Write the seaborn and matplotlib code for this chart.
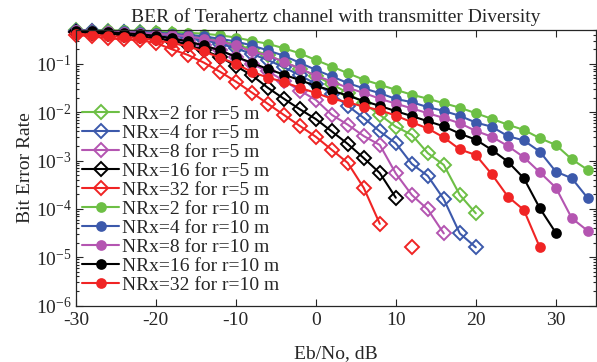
import numpy as np
import pandas as pd
import matplotlib
matplotlib.use("Agg")
import matplotlib.pyplot as plt
import seaborn as sns
from matplotlib.ticker import LogLocator, NullFormatter, FixedLocator

# Eb/No grid (dB)
snr_db = list(range(-30, 36, 2))

# r = 5 m (open diamonds)
ber_r5_nrx2 = [0.49, 0.48, 0.47, 0.46, 0.45, 0.43, 0.41, 0.38, 0.35, 0.30, 0.25, 0.20, 0.15,
               0.11, 0.08, 0.056, 0.038, 0.025, 0.0153, 0.0088, 0.0050, 0.0034, 0.00142,
               0.00081, 0.000194, 8.1e-5]
ber_r5_nrx4 = [0.48, 0.47, 0.46, 0.45, 0.43, 0.41, 0.38, 0.35, 0.31, 0.26, 0.21, 0.16, 0.12,
               0.085, 0.058, 0.0385, 0.024, 0.0135, 0.0076, 0.0040, 0.00228, 0.00085, 0.00048,
               0.000158, 3.1e-5, 1.6e-5]
ber_r5_nrx8 = [0.46, 0.45, 0.44, 0.42, 0.40, 0.37, 0.33, 0.29, 0.24, 0.19, 0.14, 0.10, 0.07,
               0.045, 0.028, 0.018, 0.0088, 0.0055, 0.0032, 0.0021, 0.00054, 0.000194, 9.7e-5,
               3.1e-5]
ber_r5_nrx16 = [0.45, 0.44, 0.42, 0.40, 0.37, 0.34, 0.30, 0.25, 0.19, 0.14, 0.09, 0.058, 0.032,
                0.019, 0.0115, 0.0072, 0.0040, 0.0022, 0.00112, 0.00055, 0.00017]
ber_r5_nrx32 = [0.40, 0.37, 0.34, 0.32, 0.31, 0.27, 0.20, 0.153, 0.106, 0.069, 0.043, 0.0255,
                0.0149, 0.0088, 0.0052, 0.0031, 0.00166, 0.00089, 0.00027, 4.9e-5, np.nan, 1.6e-5]

# r = 10 m (filled circles)
ber_r10_nrx2 = [0.50, 0.50, 0.49, 0.49, 0.48, 0.47, 0.46, 0.44, 0.42, 0.39, 0.35, 0.30, 0.26,
                0.21, 0.165, 0.12, 0.088, 0.064, 0.047, 0.037, 0.029, 0.023, 0.019, 0.0153,
                0.0124, 0.0095, 0.0073, 0.0055, 0.0043, 0.0029, 0.0021, 0.00106, 0.00064]
ber_r10_nrx4 = [0.50, 0.49, 0.48, 0.47, 0.46, 0.44, 0.42, 0.40, 0.37, 0.33, 0.29, 0.24, 0.19,
                0.147, 0.105, 0.075, 0.055, 0.040, 0.031, 0.0247, 0.0188, 0.0161, 0.0127,
                0.0106, 0.0084, 0.0061, 0.0050, 0.0032, 0.0026, 0.00153, 0.00059, 0.00043,
                0.000166]
ber_r10_nrx8 = [0.49, 0.48, 0.47, 0.46, 0.44, 0.42, 0.40, 0.37, 0.33, 0.29, 0.24, 0.18, 0.15,
                0.11, 0.08, 0.057, 0.043, 0.032, 0.025, 0.019, 0.015, 0.012, 0.0095, 0.0076,
                0.0059, 0.0041, 0.0031, 0.0020, 0.00117, 0.00057, 0.000275, 6.4e-5, 3.5e-5]
ber_r10_nrx16 = [0.48, 0.47, 0.45, 0.43, 0.41, 0.38, 0.34, 0.29, 0.24, 0.19, 0.14, 0.105, 0.078,
                 0.06, 0.046, 0.035, 0.028, 0.022, 0.017, 0.0135, 0.0105, 0.0083, 0.0065,
                 0.0051, 0.0036, 0.0027, 0.00166, 0.00095, 0.00043, 0.000103, 3.2e-5]
ber_r10_nrx32 = [0.42, 0.40, 0.38, 0.36, 0.34, 0.31, 0.27, 0.23, 0.18, 0.135, 0.10, 0.068, 0.052,
                 0.042, 0.032, 0.025, 0.019, 0.016, 0.013, 0.011, 0.0085, 0.0062, 0.0046,
                 0.0030, 0.0017, 0.0013, 0.00052, 0.00018, 9.5e-5, 1.6e-5]

nrx_values = [2, 4, 8, 16, 32]
colors = ['#6dbf45', '#3c59ab', '#b455b1', '#000000', '#f02424']

sns.set_style("ticks")
plt.rcParams['font.family'] = ['Liberation Serif', 'DejaVu Serif']
plt.rcParams['mathtext.fontset'] = 'custom'
plt.rcParams['mathtext.rm'] = 'Liberation Serif'
plt.rcParams['mathtext.it'] = 'Liberation Serif:italic'
plt.rcParams['axes.unicode_minus'] = False


def draw_series(ax, ber, color, filled, label):
    df = pd.DataFrame({'snr': snr_db[:len(ber)], 'ber': ber})
    # a zero BER is not drawn on a log axis, so the line breaks there
    df['seg'] = df['ber'].isna().cumsum()
    df = df.dropna()
    style = dict(color=color, lw=1.5, markeredgecolor=color, markeredgewidth=1.4, clip_on=False)
    if filled:
        style.update(marker='o', markersize=6.3, markerfacecolor=color)
    else:
        style.update(marker='D', markersize=6.8, markerfacecolor='none')
    for i, (_, part) in enumerate(df.groupby('seg')):
        sns.lineplot(data=part, x='snr', y='ber', ax=ax, estimator=None, sort=False,
                     label=label if i == 0 else None, legend=False, **style)


fig = plt.figure(figsize=(5.97, 3.62), dpi=100)
ax = fig.add_axes([0.127, 0.156, 0.871, 0.761])

r5 = [ber_r5_nrx2, ber_r5_nrx4, ber_r5_nrx8, ber_r5_nrx16, ber_r5_nrx32]
r10 = [ber_r10_nrx2, ber_r10_nrx4, ber_r10_nrx8, ber_r10_nrx16, ber_r10_nrx32]
for n, ber, c in zip(nrx_values, r5, colors):
    draw_series(ax, ber, c, False, f'NRx={n} for r=5 m')
for n, ber, c in zip(nrx_values, r10, colors):
    draw_series(ax, ber, c, True, f'NRx={n} for r=10 m')

ax.set_yscale('log')
ax.set_xlim(-30, 35)
ax.set_ylim(1e-6, 0.5)
ax.xaxis.set_major_locator(FixedLocator(list(range(-30, 31, 10))))
ax.yaxis.set_major_locator(LogLocator(base=10, numticks=10))
ax.yaxis.set_minor_locator(LogLocator(base=10, subs=np.arange(2, 10), numticks=20))
ax.yaxis.set_minor_formatter(NullFormatter())
ax.tick_params(which='both', direction='in', top=True, right=True, labelsize=14, width=0.8)
ax.tick_params(axis='x', pad=5)
ax.tick_params(axis='y', pad=3)
ax.tick_params(which='major', length=5)
ax.tick_params(which='minor', length=2.5)
for sp in ax.spines.values():
    sp.set_linewidth(0.9)

ax.set_title('BER of Terahertz channel with transmitter Diversity', fontsize=14, pad=6)
ax.set_xlabel('Eb/No, dB', fontsize=14, labelpad=11)
ax.set_ylabel('Bit Error Rate', fontsize=14, labelpad=1)

ax.legend(loc='upper left', bbox_to_anchor=(0.012, 0.727), frameon=False, fontsize=14,
          handlelength=1.9, handletextpad=0.15, labelspacing=0.07, borderpad=0,
          borderaxespad=0)

fig.savefig('out.png', dpi=100)
